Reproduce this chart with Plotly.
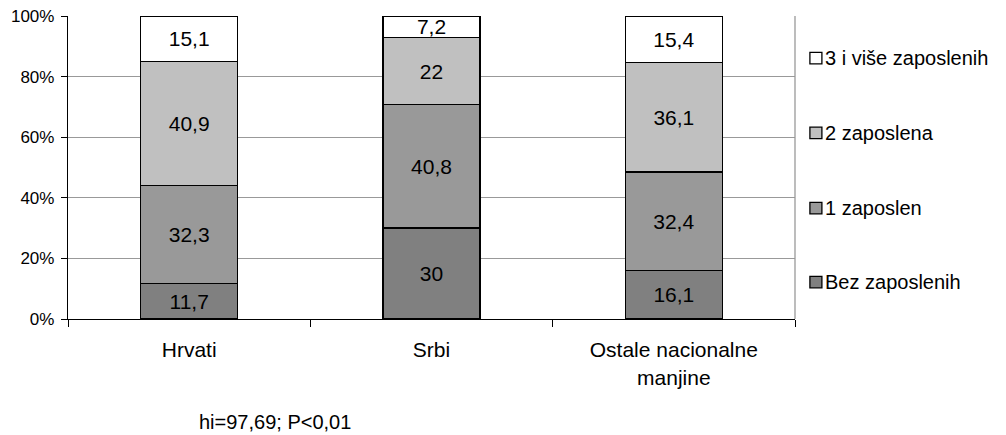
import plotly.graph_objects as go

categories = ["Hrvati", "Srbi", "Ostale nacionalne<br>manjine"]
series_names = ["Bez zaposlenih", "1 zaposlen", "2 zaposlena", "3 i više zaposlenih"]
bez_zaposlenih = [11.7, 30, 16.1]
jedan_zaposlen = [32.3, 40.8, 32.4]
dva_zaposlena = [40.9, 22, 36.1]
tri_i_vise = [15.1, 7.2, 15.4]
y_tick_vals = [0, 20, 40, 60, 80, 100]
y_tick_text = ["0%", "20%", "40%", "60%", "80%", "100%"]
note_text = "hi=97,69; P<0,01"

series_values = [bez_zaposlenih, jedan_zaposlen, dva_zaposlena, tri_i_vise]
colors = ["#808080", "#999999", "#c0c0c0", "#ffffff"]
FONT = "Liberation Sans, Arial, sans-serif"


def fmt(v):
    return ("%g" % v).replace(".", ",")


fig = go.Figure()
for name, vals, col in zip(series_names, series_values, colors):
    fig.add_trace(go.Bar(
        x=categories, y=vals, name=name,
        marker=dict(color=col, line=dict(color="#000000", width=1.3)),
        text=[fmt(v) for v in vals], textposition="inside",
        insidetextanchor="middle", textangle=0,
        textfont=dict(family=FONT, size=21, color="#000000"),
        width=0.4, showlegend=False, hoverinfo="skip",
    ))

# manual legend (top item = last series)
legend_y = [0.861, 0.614, 0.366, 0.122]
for i, (name, col) in enumerate(zip(reversed(series_names), reversed(colors))):
    yc = legend_y[i]
    fig.add_shape(type="rect", xref="paper", yref="paper",
                  x0=1.0205, x1=1.037, y0=yc - 0.019, y1=yc + 0.019,
                  fillcolor=col, line=dict(color="#000000", width=1.3))
    fig.add_annotation(xref="paper", yref="paper", x=1.038, y=yc,
                       xanchor="left", yanchor="middle", showarrow=False,
                       text=name, font=dict(family=FONT, size=20, color="#000000"))

# right border of plot area
fig.add_shape(type="line", xref="paper", yref="paper", x0=1, x1=1, y0=0, y1=1,
              line=dict(color="#999999", width=1.3))

fig.add_annotation(xref="paper", yref="paper", x=0.285, y=-0.34,
                   xanchor="center", yanchor="middle", showarrow=False,
                   text=note_text, font=dict(family=FONT, size=20, color="#000000"))

fig.update_layout(
    barmode="stack",
    width=1006, height=435,
    margin=dict(l=68, r=211, t=16, b=116, autoexpand=False),
    paper_bgcolor="#ffffff", plot_bgcolor="#ffffff",
    font=dict(family=FONT, color="#000000"),
    uniformtext=dict(minsize=21, mode="show"),
)
fig.update_xaxes(
    type="category", tickson="boundaries", ticks="outside", ticklen=7,
    tickcolor="#000000", tickwidth=1.3,
    showline=True, linecolor="#000000", linewidth=1.3,
    showgrid=False, tickfont=dict(family=FONT, size=21, color="#000000"),
    range=[-0.5, 2.5], automargin=False, ticklabelstandoff=12,
)
fig.update_yaxes(
    range=[0, 100], tickvals=y_tick_vals, ticktext=y_tick_text,
    ticks="outside", ticklen=6, tickcolor="#000000", tickwidth=1.3,
    showline=True, linecolor="#000000", linewidth=1.3,
    showgrid=True, gridcolor="#999999", gridwidth=1.3,
    zeroline=False, tickfont=dict(family=FONT, size=17, color="#000000"),
    automargin=False, ticklabelstandoff=3,
)

fig.write_html(
    "out.html",
    config={"displayModeBar": False},
    post_script="document.body.style.margin='0px';document.body.style.padding='0px';",
)
